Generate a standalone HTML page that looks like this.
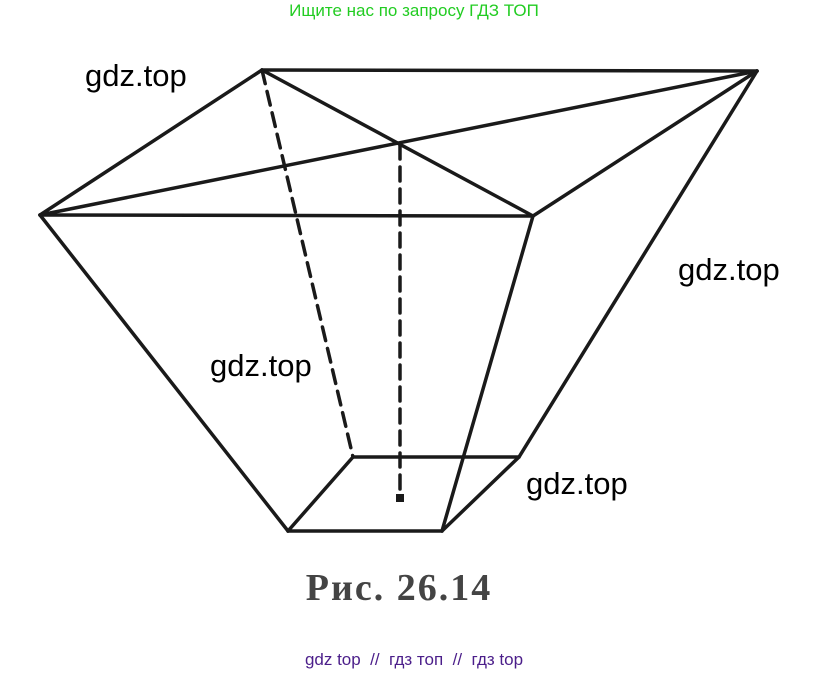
<!DOCTYPE html>
<html><head><meta charset="utf-8"><style>
body{margin:0;background:#fff;width:829px;height:674px;overflow:hidden;font-family:"Liberation Sans",sans-serif}
</style></head><body>
<svg width="829" height="674" xmlns="http://www.w3.org/2000/svg">
<g stroke="#1a1a1a" stroke-width="3.5" fill="none" stroke-linecap="round">
<line x1="262" y1="70" x2="757" y2="71"/>
<line x1="262" y1="70" x2="533" y2="216"/>
<line x1="262" y1="70" x2="40" y2="215"/>
<line x1="40" y1="215" x2="757" y2="71"/>
<line x1="40" y1="215" x2="533" y2="216"/>
<line x1="533" y1="216" x2="757" y2="71"/>
<line x1="40" y1="215" x2="288" y2="531"/>
<line x1="533" y1="216" x2="442" y2="531"/>
<polyline points="757,71 519,457 442,531"/>
<line x1="288" y1="531" x2="442" y2="531"/>
<line x1="288" y1="531" x2="353" y2="457"/>
<line x1="353" y1="457" x2="519" y2="457"/>
<line x1="262" y1="70" x2="353" y2="457" stroke-dasharray="14,8"/>
<line x1="400" y1="145" x2="400" y2="490" stroke-dasharray="14,8"/>
</g>
<rect x="396" y="494" width="8" height="8" fill="#1a1a1a"/>
<text x="414" y="16" font-size="17" fill="#22cc22" text-anchor="middle">Ищите нас по запросу ГДЗ ТОП</text>
<g font-size="31" fill="#000">
<text x="85" y="86">gdz.top</text>
<text x="678" y="280">gdz.top</text>
<text x="210" y="376">gdz.top</text>
<text x="526" y="494">gdz.top</text>
</g>
<text x="399" y="600" font-size="38" font-weight="bold" fill="#444" text-anchor="middle" letter-spacing="2" font-family="Liberation Serif,serif">Рис. 26.14</text>
<text x="414" y="665" font-size="17" fill="#4b1e8a" text-anchor="middle" xml:space="preserve">gdz top  //  гдз топ  //  гдз top</text>
</svg>
</body></html>
